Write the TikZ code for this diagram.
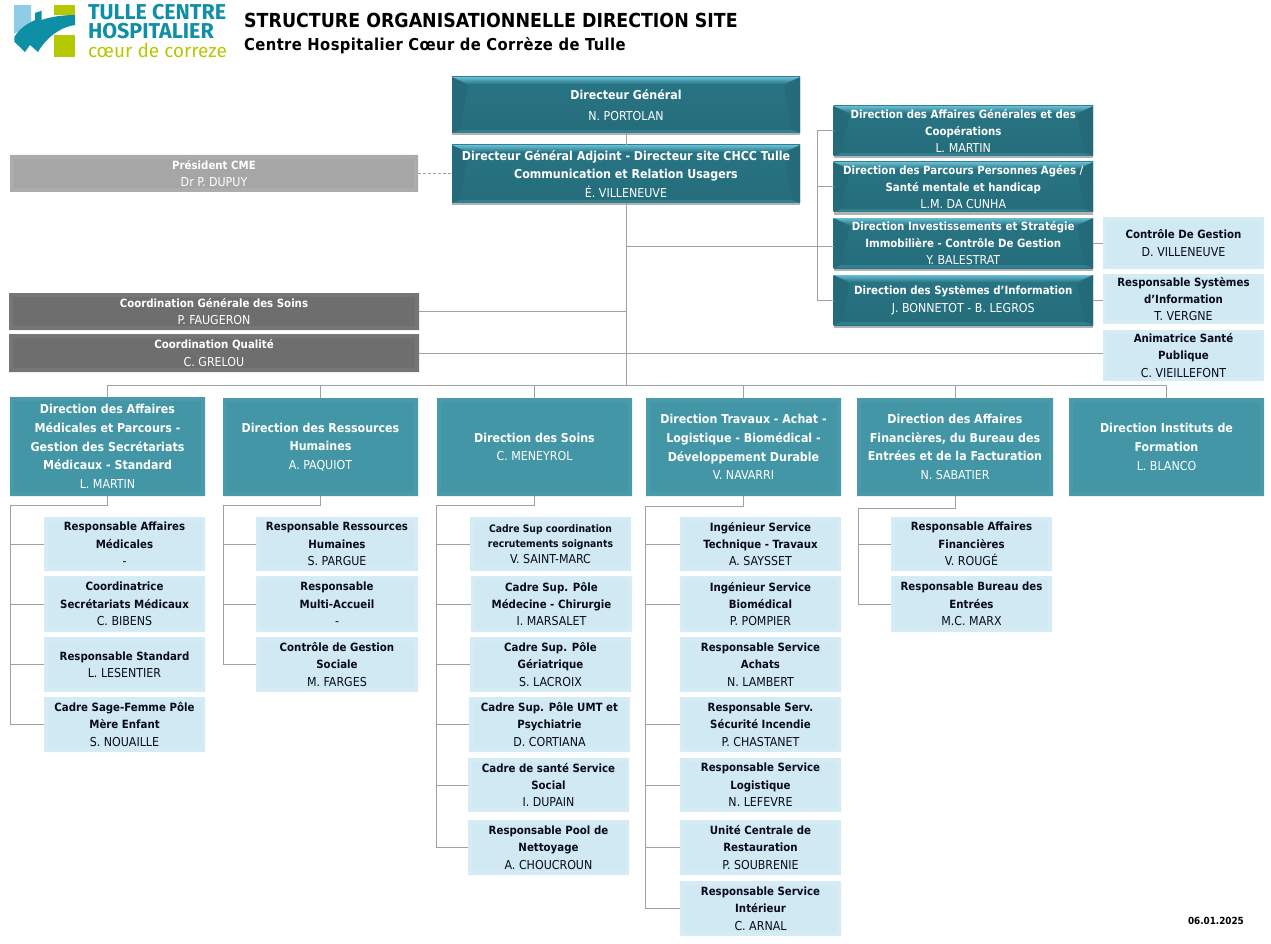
\documentclass[tikz,border=0pt]{standalone}
\usepackage{fontspec}
\setmainfont{DejaVu Sans Condensed}
\newfontfamily\logofont{Fira Sans}
\usetikzlibrary{shadows,calc}
\definecolor{conn}{HTML}{A0A0A0}
\definecolor{ink}{HTML}{0A0A1E}
\newcommand\nm[1]{{\fontsize{12.3}{17.4}\selectfont\mdseries #1}}
\newcommand\flatbevel[1]{%
  \fill[#1] (path picture bounding box.north west) -- (path picture bounding box.north east)
    -- ([shift={(-4pt,-4pt)}]path picture bounding box.north east)
    -- ([shift={(4pt,-4pt)}]path picture bounding box.north west) -- cycle;
  \fill[#1] (path picture bounding box.south west) -- (path picture bounding box.south east)
    -- ([shift={(-4pt,4pt)}]path picture bounding box.south east)
    -- ([shift={(4pt,4pt)}]path picture bounding box.south west) -- cycle;
  \fill[#1] (path picture bounding box.north west) -- (path picture bounding box.south west)
    -- ([shift={(4pt,4pt)}]path picture bounding box.south west)
    -- ([shift={(4pt,-4pt)}]path picture bounding box.north west) -- cycle;
  \fill[#1] (path picture bounding box.north east) -- (path picture bounding box.south east)
    -- ([shift={(-4pt,4pt)}]path picture bounding box.south east)
    -- ([shift={(-4pt,-4pt)}]path picture bounding box.north east) -- cycle;
}
\tikzset{
  x=1pt,y=-1pt,
  boxbase/.style={inner sep=0pt,outer sep=0pt,align=center,font=\fontsize{11.35}{17.4}\selectfont\bfseries},
  widefont/.style={font=\fontsize{12.3}{18.4}\selectfont\bfseries},
  darkbox/.style={boxbase,text=white,draw=none,top color=darkA,bottom color=darkB,
    drop shadow={shadow xshift=0pt,shadow yshift=-2.5pt,fill=black,opacity=.3},
    path picture={
      \fill[darkS] (path picture bounding box.north west) -- ([shift={(16pt,-9pt)}]path picture bounding box.north west)
        -- ([shift={(8pt,3pt)}]path picture bounding box.south west) -- (path picture bounding box.south west) -- cycle;
      \fill[darkS] (path picture bounding box.north east) -- ([shift={(-16pt,-9pt)}]path picture bounding box.north east)
        -- ([shift={(-8pt,3pt)}]path picture bounding box.south east) -- (path picture bounding box.south east) -- cycle;
      \shade[top color=darkT,bottom color=darkA] (path picture bounding box.north west) -- (path picture bounding box.north east)
        -- ([shift={(-16pt,-7pt)}]path picture bounding box.north east) -- ([shift={(16pt,-7pt)}]path picture bounding box.north west) -- cycle;
      \fill[darkL] (path picture bounding box.south west) -- (path picture bounding box.south east)
        -- ([shift={(-8pt,3pt)}]path picture bounding box.south east) -- ([shift={(8pt,3pt)}]path picture bounding box.south west) -- cycle;
    }},
  tealbox/.style={boxbase,font=\fontsize{12.3}{18.7}\selectfont\bfseries,text=white,fill=tealM,path picture={\flatbevel{tealE}}},
  lightbox/.style={boxbase,text=ink,fill=lightM,path picture={\flatbevel{lightE}}},
  greybox/.style={boxbase,text=white,fill=greyM,path picture={\flatbevel{greyE}}},
  paleGrey/.style={boxbase,text=white,fill=paleM,path picture={\flatbevel{paleE}}},
  link/.style={draw=conn,line width=1pt},
  logotext/.style={inner sep=0pt,outer sep=0pt,anchor=west,font=\logofont\bfseries},
}
\definecolor{darkA}{HTML}{297585}
\definecolor{darkB}{HTML}{246C7A}
\definecolor{darkS}{HTML}{246A78}
\definecolor{darkT}{HTML}{66BFD3}
\definecolor{darkL}{HTML}{317F8F}
\definecolor{tealM}{HTML}{4296A5}
\definecolor{tealE}{HTML}{4A9BAA}
\definecolor{lightM}{HTML}{D0E9F3}
\definecolor{lightE}{HTML}{D6ECF5}
\definecolor{greyM}{HTML}{6E6E6E}
\definecolor{greyE}{HTML}{767676}
\definecolor{paleM}{HTML}{A6A6A6}
\definecolor{paleE}{HTML}{ACACAC}
\definecolor{logoTeal}{HTML}{0E8FA6}
\definecolor{logoBlue}{HTML}{8ECDE3}
\definecolor{logoGreen}{HTML}{B5C900}
\newcommand\bxn[7]{\node[#2,minimum width={(#5-#3)*1pt},minimum height={(#6-#4)*1pt}] (#1) at ({(#3+#5)/2},{(#4+#6)/2}) {#7};}
\begin{document}
\begin{tikzpicture}
\useasboundingbox (0,0) rectangle (1271,944);
% logo
\fill[logoBlue] (14,5) -- (31,5) -- (31,24) -- (14,34) -- cycle;
\fill[logoGreen] (54,5) rectangle (75,15);
\fill[logoGreen] (54,35) rectangle (75,57.5);
\fill[logoTeal] (14.3,41.7) -- (14.3,37) .. controls (20,28) and (27,24) .. (35,20) -- (35,13) -- (41.7,10.7) -- (41.7,20)
  .. controls (50,17) and (62,15) .. (75,15) -- (75,25) .. controls (60,27) and (46,38) .. (38,52) -- (30,45) -- (25,52) -- cycle;
\node[logotext,text=logoTeal,font=\logofont\bfseries\fontsize{21.5}{22}\selectfont] (lg1) at (88,12) {TULLE CENTRE};
\node[logotext,text=logoTeal,font=\logofont\bfseries\fontsize{21.5}{22}\selectfont] (lg2) at (88,31) {HOSPITALIER};
\node[logotext,text=logoGreen,font=\logofont\fontsize{19}{20}\selectfont] (lg3) at (88,50) {cœur de correze};
% titles
\node[inner sep=0pt,anchor=west,font=\fontsize{19.35}{22}\selectfont\bfseries,text=black] (title) at (244,20) {STRUCTURE ORGANISATIONNELLE DIRECTION SITE};
\node[inner sep=0pt,anchor=west,font=\fontsize{16.4}{18}\selectfont\bfseries\addfontfeatures{LetterSpace=2.5},text=black] (subtitle) at (244,46) {Centre Hospitalier Cœur de Corrèze de Tulle};
\node[inner sep=0pt,anchor=east,font=\fontsize{9.8}{11}\selectfont\bfseries,text=black] (date) at (1244,921) {06.01.2025};
% top
\bxn{dg}{darkbox,widefont}{452}{77}{800}{133}{Directeur Général\\[2pt]\nm{N. PORTOLAN}}
\bxn{dga}{darkbox,widefont}{452}{145}{800}{203}{Directeur Général Adjoint - Directeur site CHCC Tulle\\Communication et Relation Usagers\\\nm{É. VILLENEUVE}}
\bxn{pres}{paleGrey}{10}{155}{418}{192}{Président CME\\\nm{Dr P. DUPUY}}
\bxn{cgs}{greybox}{9}{293}{419}{330}{Coordination Générale des Soins\\\nm{P. FAUGERON}}
\bxn{cq}{greybox}{9}{334}{419}{372}{Coordination Qualité\\\nm{C. GRELOU}}
% right
\bxn{r1}{darkbox}{833.5}{106}{1093}{156}{Direction des Affaires Générales et des\\Coopérations\\\nm{L. MARTIN}}
\bxn{r2}{darkbox}{833.5}{162}{1093}{212}{Direction des Parcours Personnes Agées /\\Santé mentale et handicap\\\nm{L.M. DA CUNHA}}
\bxn{r3}{darkbox}{833.5}{218}{1093}{268}{Direction Investissements et Stratégie\\Immobilière - Contrôle De Gestion\\\nm{Y. BALESTRAT}}
\bxn{r4}{darkbox}{833.5}{275}{1093}{325}{Direction des Systèmes d’Information\\\nm{J. BONNETOT - B. LEGROS}}
\bxn{l1}{lightbox}{1103}{217}{1264}{269}{Contrôle De Gestion\\\nm{D. VILLENEUVE}}
\bxn{l2}{lightbox}{1103}{274}{1264}{324}{Responsable Systèmes\\d’Information\\\nm{T. VERGNE}}
\bxn{l3}{lightbox}{1103}{330}{1264}{381}{Animatrice Santé\\Publique\\\nm{C. VIEILLEFONT}}
% directions
\bxn{d1}{tealbox}{10}{397}{205}{496}{Direction des Affaires\\Médicales et Parcours -\\Gestion des Secrétariats\\Médicaux - Standard\\\nm{L. MARTIN}}
\bxn{d2}{tealbox}{223}{398}{418}{496}{Direction des Ressources\\Humaines\\\nm{A. PAQUIOT}}
\bxn{d3}{tealbox}{437}{398}{632}{496}{Direction des Soins\\\nm{C. MENEYROL}}
\bxn{d4}{tealbox}{646}{398}{841}{496}{Direction Travaux - Achat -\\Logistique - Biomédical -\\Développement Durable\\\nm{V. NAVARRI}}
\bxn{d5}{tealbox}{857}{398}{1053}{496}{Direction des Affaires\\Financières, du Bureau des\\Entrées et de la Facturation\\\nm{N. SABATIER}}
\bxn{d6}{tealbox}{1069}{398}{1264}{496}{Direction Instituts de\\Formation\\\nm{L. BLANCO}}
% column 1
\bxn{a1}{lightbox}{44}{517}{205}{571}{Responsable Affaires\\Médicales\\\nm{-}}
\bxn{a2}{lightbox}{44}{576}{205}{632}{Coordinatrice\\Secrétariats Médicaux\\\nm{C. BIBENS}}
\bxn{a3}{lightbox}{44}{637}{205}{692}{Responsable Standard\\\nm{L. LESENTIER}}
\bxn{a4}{lightbox}{44}{697}{205}{752}{Cadre Sage-Femme Pôle\\Mère Enfant\\\nm{S. NOUAILLE}}
% column 2
\bxn{b1}{lightbox}{256}{517}{418}{571}{Responsable Ressources\\Humaines\\\nm{S. PARGUE}}
\bxn{b2}{lightbox}{256}{576}{418}{632}{Responsable\\Multi-Accueil\\\nm{-}}
\bxn{b3}{lightbox}{256}{637}{418}{692}{Contrôle de Gestion\\Sociale\\\nm{M. FARGES}}
% column 3
\bxn{c1}{lightbox,font=\fontsize{10.3}{15.5}\selectfont\bfseries}{470}{517}{631}{571}{Cadre Sup coordination\\recrutements soignants\\\nm{V. SAINT-MARC}}
\bxn{c2}{lightbox}{471}{576}{632}{632}{Cadre Sup. Pôle\\Médecine - Chirurgie\\\nm{I. MARSALET}}
\bxn{c3}{lightbox}{470}{637}{631}{692}{Cadre Sup. Pôle\\Gériatrique\\\nm{S. LACROIX}}
\bxn{c4}{lightbox}{469}{697}{630}{752}{Cadre Sup. Pôle UMT et\\Psychiatrie\\\nm{D. CORTIANA}}
\bxn{c5}{lightbox}{468}{758}{629}{812}{Cadre de santé Service\\Social\\\nm{I. DUPAIN}}
\bxn{c6}{lightbox}{468}{820}{629}{875}{Responsable Pool de\\Nettoyage\\\nm{A. CHOUCROUN}}
% column 4
\bxn{e1}{lightbox}{680}{517}{841}{571}{Ingénieur Service\\Technique - Travaux\\\nm{A. SAYSSET}}
\bxn{e2}{lightbox}{680}{576}{841}{632}{Ingénieur Service\\Biomédical\\\nm{P. POMPIER}}
\bxn{e3}{lightbox}{680}{637}{841}{692}{Responsable Service\\Achats\\\nm{N. LAMBERT}}
\bxn{e4}{lightbox}{680}{697}{841}{752}{Responsable Serv.\\Sécurité Incendie\\\nm{P. CHASTANET}}
\bxn{e5}{lightbox}{680}{758}{841}{812}{Responsable Service\\Logistique\\\nm{N. LEFEVRE}}
\bxn{e6}{lightbox}{680}{820}{841}{875}{Unité Centrale de\\Restauration\\\nm{P. SOUBRENIE}}
\bxn{e7}{lightbox}{680}{881}{841}{936}{Responsable Service\\Intérieur\\\nm{C. ARNAL}}
% column 5
\bxn{f1}{lightbox}{891}{517}{1052}{571}{Responsable Affaires\\Financières\\\nm{V. ROUGÉ}}
\bxn{f2}{lightbox}{891}{576}{1052}{632}{Responsable Bureau des\\Entrées\\\nm{M.C. MARX}}
% bus coordinates
\coordinate (topbus) at (626,385);
\coordinate (rbus) at (817,246);
\coordinate (bd1) at (10.5,505);
\coordinate (bd2) at (223.5,505);
\coordinate (bd3) at (436.5,505);
\coordinate (bd4) at (645.5,506);
\coordinate (bd5) at (858.5,508);
% connectors
\draw[link] (dg.south) -- (dga.north);
\draw[link,densely dashed,line width=.6pt] (pres.east) -- (pres.east -| dga.west);
\draw[link] (dga.south) -- (dga.south |- topbus);
\draw[link] (cgs.east) -- (cgs.east -| dga.south);
\draw[link] (cq.east) -- (cq.east -| l3.west);
\draw[link] ([yshift=-3pt]r3.west) -- ([yshift=-3pt]r3.west -| dga.south);
\draw[link] (r1.west) -- (r1.west -| rbus) -- (r4.west -| rbus) -- (r4.west);
\draw[link] (r2.west) -- (r2.west -| rbus);
\draw[link] (r3.east) -- (r3.east -| l1.west);
\draw[link] (r4.east) -- (r4.east -| l2.west);
\draw[link] (d1.north) |- (topbus);
\draw[link] (d6.north) |- (topbus);
\draw[link] (d2.north) -- (d2.north |- topbus);
\draw[link] (d3.north) -- (d3.north |- topbus);
\draw[link] (d4.north) -- (d4.north |- topbus);
\draw[link] (d5.north) -- (d5.north |- topbus);
\draw[link] (d1.south) |- (bd1) -- (bd1 |- a4.west) -- (a4.west);
\foreach \n in {a1,a2,a3} \draw[link] (\n.west) -- (\n.west -| bd1);
\draw[link] (d2.south) |- (bd2) -- (bd2 |- b3.west) -- (b3.west);
\foreach \n in {b1,b2} \draw[link] (\n.west) -- (\n.west -| bd2);
\draw[link] (d3.south) |- (bd3) -- (bd3 |- c6.west) -- (c6.west);
\foreach \n in {c1,c2,c3,c4,c5} \draw[link] (\n.west) -- (\n.west -| bd3);
\draw[link] (d4.south) |- (bd4) -- (bd4 |- e7.west) -- (e7.west);
\foreach \n in {e1,e2,e4,e5,e6} \draw[link] (\n.west) -- (\n.west -| bd4);
\draw[link] (d5.south) |- (bd5) -- (bd5 |- f2.west) -- (f2.west);
\draw[link] (f1.west) -- (f1.west -| bd5);
\end{tikzpicture}
\end{document}
